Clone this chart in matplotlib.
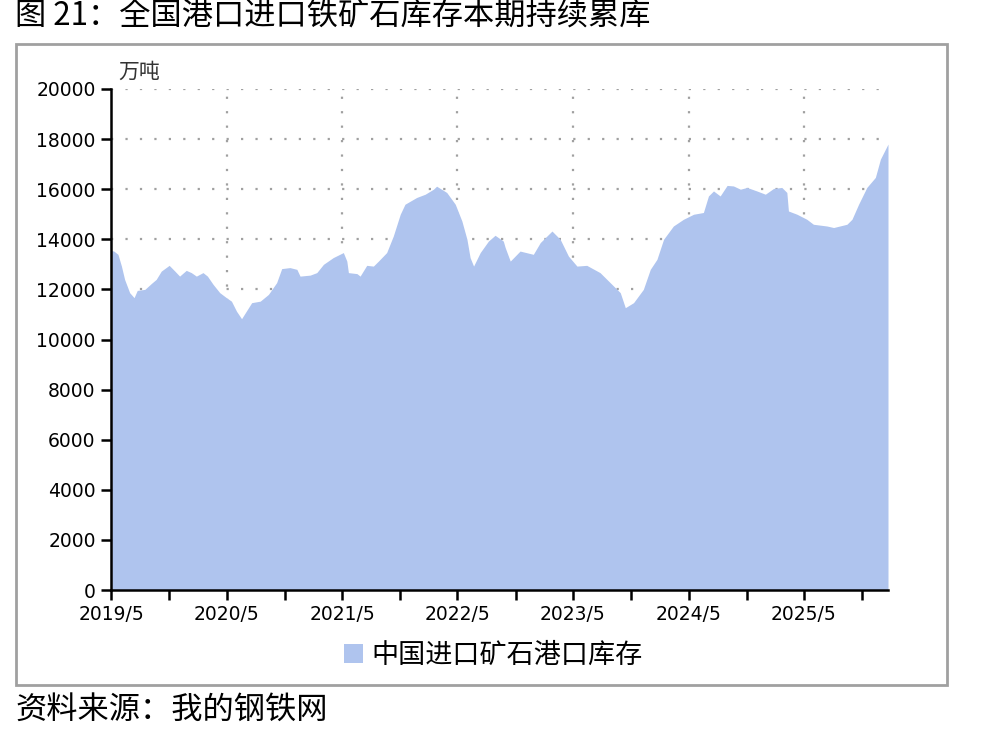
import numpy as np
import pandas as pd
import matplotlib
matplotlib.use("Agg")
import matplotlib.pyplot as plt
import matplotlib.dates as mdates
from matplotlib.patches import Rectangle, Patch

CJK = ["Noto Sans CJK SC", "DejaVu Sans"]

title = "图 21：全国港口进口铁矿石库存本期持续累库"
source = "资料来源：我的钢铁网"
unit = "万吨"
series_name = "中国进口矿石港口库存"

dates = [
    "2019-05-03", "2019-05-10", "2019-05-23", "2019-06-03", "2019-06-13", "2019-06-29", "2019-07-13", "2019-07-23",
    "2019-08-16", "2019-09-06", "2019-09-21", "2019-10-07", "2019-11-01", "2019-11-19", "2019-12-04", "2019-12-25",
    "2020-01-10", "2020-01-26", "2020-02-16", "2020-03-01", "2020-03-19", "2020-04-09", "2020-04-30", "2020-05-16",
    "2020-06-01", "2020-06-17", "2020-07-19", "2020-08-15", "2020-09-10", "2020-10-06", "2020-10-22", "2020-11-17",
    "2020-12-09", "2020-12-19",
    "2021-01-20", "2021-02-10", "2021-03-03", "2021-04-03", "2021-05-05", "2021-05-16", "2021-05-21", "2021-06-17",
    "2021-06-27", "2021-07-18", "2021-08-08", "2021-08-24", "2021-09-19", "2021-10-10", "2021-11-01", "2021-11-16",
    "2021-12-23",
    "2022-01-19", "2022-02-14", "2022-02-24", "2022-03-28", "2022-04-24", "2022-05-15", "2022-05-31", "2022-06-10",
    "2022-06-21", "2022-07-12", "2022-08-07", "2022-08-28", "2022-09-23", "2022-09-29", "2022-10-15", "2022-11-15",
    "2022-12-27",
    "2023-01-18", "2023-02-24", "2023-03-22", "2023-04-17", "2023-05-14", "2023-06-14", "2023-07-26", "2023-08-27",
    "2023-09-28", "2023-10-14", "2023-11-09", "2023-12-10",
    "2024-01-01", "2024-01-22", "2024-02-12", "2024-03-14", "2024-04-15", "2024-05-17", "2024-06-17", "2024-07-03",
    "2024-07-19", "2024-08-09", "2024-08-31", "2024-09-20", "2024-10-12", "2024-11-02", "2024-12-03", "2024-12-30",
    "2025-01-25", "2025-02-20", "2025-03-08", "2025-03-13", "2025-04-09", "2025-05-10", "2025-05-31", "2025-07-13",
    "2025-08-03", "2025-09-14", "2025-09-30", "2025-10-21", "2025-11-16", "2025-12-13", "2025-12-29", "2026-01-22",
]
stock = [
    13550, 13530, 13400, 12930, 12400, 11870, 11670, 11960, 12000, 12240, 12400, 12730, 12960, 12730, 12530, 12760,
    12670, 12530, 12670, 12530, 12200, 11870, 11670, 11530, 11130, 10830, 11470, 11530, 11800, 12270, 12830, 12870,
    12800, 12530,
    12570, 12670, 13000, 13270, 13470, 13130, 12670, 12630, 12530, 12960, 12930, 13130, 13470, 14130, 15000, 15400,
    15670,
    15800, 16000, 16120, 15870, 15400, 14730, 14000, 13270, 12930, 13470, 13930, 14160, 13930, 13670, 13130, 13530,
    13400,
    13870, 14330, 14000, 13330, 12930, 12960, 12670, 12270, 11870, 11270, 11470, 12000,
    12800, 13200, 14000, 14530, 14800, 15000, 15070, 15730, 15930, 15730, 16150, 16130, 16000, 16070, 15930, 15800,
    16030, 16070, 15870, 15130, 15000, 14800, 14600, 14530, 14470, 14600, 14800, 15400, 16070, 16470, 17200, 17800,
]
x_start = "2019-05-01"
y_ticks = list(range(0, 20001, 2000))

fill_color = "#AFC4EE"
grid_color = "#A0A0A0"

x = pd.to_datetime(dates)
fig = plt.figure(figsize=(9.88, 7.37), dpi=100)
ax = fig.add_axes([111 / 988, 1 - 590 / 737, 777 / 988, 501 / 737])

ax.fill_between(x, stock, 0, color=fill_color, lw=0, zorder=2)
ax.set_xlim(pd.Timestamp(x_start), x[-1])
ax.set_ylim(0, 20000)

# ticks every half year, labels only on May
tick_dates = pd.date_range(x_start, "2025-11-01", freq="6MS")
ax.set_xticks(tick_dates)
ax.set_xticklabels([f"{d.year}/{d.month}" if d.month == 5 else "" for d in tick_dates])
ax.set_yticks(y_ticks)
ax.set_yticklabels([str(v) for v in y_ticks])
ax.tick_params(direction="out", length=7, width=1.8, colors="black", labelsize=13.5, pad=4)
for lab in ax.get_xticklabels() + ax.get_yticklabels():
    lab.set_family("DejaVu Sans")

# grid: horizontal every 2000, vertical on May of each year
for v in y_ticks[1:]:
    ax.axhline(v, color=grid_color, lw=1.6, ls=(0, (1, 5.5)), zorder=1)
for d in tick_dates:
    if d.month == 5 and d.year > 2019:
        ax.axvline(d, color=grid_color, lw=1.6, ls=(0, (1, 5.5)), zorder=1)

for s in ["top", "right"]:
    ax.spines[s].set_visible(False)
for s in ["left", "bottom"]:
    ax.spines[s].set_linewidth(1.8)
    ax.spines[s].set_zorder(3)

fig.text(118 / 988, 1 - 72 / 737, unit, family=CJK, fontsize=15, color="#333333", va="center", ha="left")

fig.legend(handles=[Patch(facecolor=fill_color, edgecolor="none", label=series_name)],
           loc="center", bbox_to_anchor=(493 / 988, 1 - 655 / 737), frameon=False,
           prop={"family": CJK, "size": 19.5}, handlelength=0.7, handleheight=0.7, handletextpad=0.3)

fig.text(15 / 988, 1 - 17 / 737, title, family=CJK, fontsize=22.5, va="center", ha="left")
fig.text(15 / 988, 1 - 710 / 737, source, family=CJK, fontsize=22.5, va="center", ha="left")

fig.patches.append(Rectangle((15.5 / 988, 1 - 684.5 / 737), 931.5 / 988, 641 / 737, transform=fig.transFigure,
                             fill=False, edgecolor="#A0A0A0", lw=2))

fig.savefig("out.png", dpi=100)
